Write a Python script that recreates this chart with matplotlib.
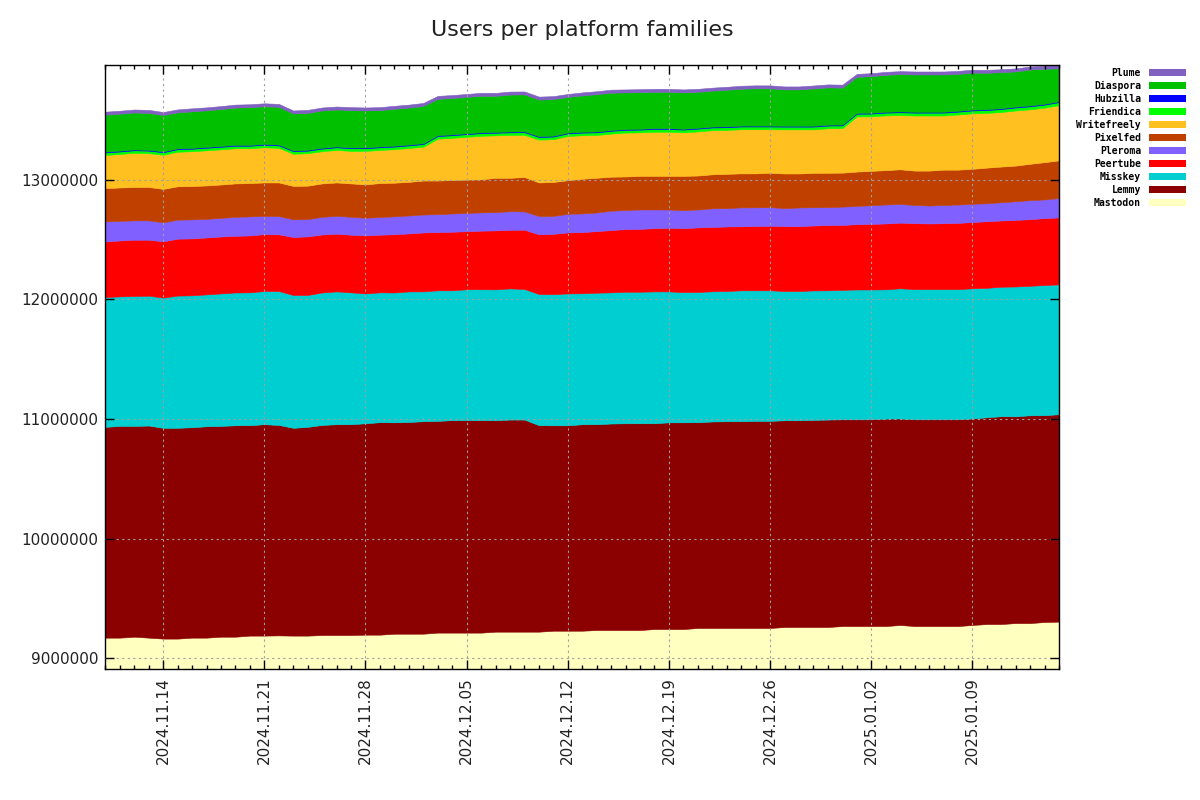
import numpy as np
import pandas as pd
import matplotlib
matplotlib.use('Agg')
import matplotlib.pyplot as plt
import matplotlib.dates as mdates
from matplotlib.patches import Rectangle
from matplotlib.ticker import MultipleLocator, FuncFormatter

# one value per day, 2024.11.10 .. 2025.01.15
dates = pd.date_range('2024-11-10', '2025-01-15', freq='D')

# users per platform family, in thousands
mastodon = [9171, 9171, 9179, 9171, 9163, 9163, 9171, 9171, 9179, 9179,
            9188, 9188, 9190, 9188, 9188, 9193, 9193, 9193, 9196, 9196,
            9204, 9204, 9204, 9213, 9213, 9213, 9213, 9221, 9221, 9221,
            9221, 9229, 9229, 9229, 9235, 9235, 9235, 9235, 9243, 9243,
            9243, 9252, 9252, 9252, 9252, 9252, 9252, 9260, 9260, 9260,
            9260, 9268, 9268, 9268, 9268, 9277, 9268, 9268, 9268, 9268,
            9277, 9285, 9285, 9293, 9293, 9302, 9305]
lemmy = [1763, 1771, 1763, 1774, 1763, 1763, 1760, 1768, 1763, 1768,
         1760, 1768, 1760, 1738, 1746, 1757, 1763, 1763, 1768, 1777,
         1768, 1771, 1777, 1771, 1777, 1777, 1777, 1768, 1774, 1774,
         1727, 1718, 1718, 1727, 1721, 1727, 1729, 1729, 1721, 1729,
         1729, 1721, 1727, 1729, 1729, 1732, 1732, 1729, 1729, 1732,
         1735, 1729, 1729, 1729, 1735, 1727, 1729, 1729, 1729, 1729,
         1727, 1729, 1738, 1729, 1738, 1729, 1735]
misskey = [1086, 1083, 1086, 1086, 1089, 1106, 1103, 1103, 1108, 1111,
           1111, 1114, 1120, 1111, 1103, 1108, 1111, 1103, 1086, 1086,
           1086, 1092, 1086, 1092, 1086, 1095, 1095, 1095, 1097, 1092,
           1097, 1097, 1103, 1095, 1100, 1097, 1100, 1100, 1103, 1095,
           1089, 1089, 1089, 1089, 1095, 1092, 1092, 1081, 1081, 1083,
           1081, 1083, 1086, 1086, 1081, 1089, 1089, 1089, 1089, 1089,
           1089, 1083, 1083, 1086, 1083, 1089, 1086]
peertube = [465, 468, 471, 468, 471, 476, 476, 476, 476, 474,
            476, 476, 474, 485, 490, 485, 482, 482, 485, 482,
            487, 485, 493, 487, 490, 485, 490, 493, 490, 496,
            499, 504, 510, 512, 515, 521, 524, 526, 529, 532,
            535, 540, 538, 540, 535, 538, 540, 543, 543, 543,
            546, 543, 546, 549, 551, 549, 551, 549, 551, 554,
            554, 557, 554, 557, 557, 560, 560]
pleroma = [167, 164, 162, 162, 159, 159, 159, 156, 156, 159,
           159, 153, 153, 148, 145, 148, 150, 150, 148, 148,
           150, 150, 150, 150, 153, 153, 153, 153, 156, 153,
           153, 150, 156, 156, 156, 162, 159, 162, 156, 153,
           150, 150, 156, 153, 159, 156, 156, 150, 156, 153,
           150, 153, 153, 156, 159, 156, 153, 150, 153, 153,
           153, 150, 153, 156, 159, 156, 162]
pixelfed = [279, 279, 279, 279, 279, 279, 279, 279, 279, 279,
            279, 279, 281, 279, 279, 279, 279, 279, 279, 284,
            281, 281, 284, 281, 279, 279, 276, 287, 279, 287,
            281, 284, 281, 290, 290, 284, 281, 281, 281, 281,
            287, 284, 284, 287, 284, 284, 287, 290, 284, 287,
            287, 284, 287, 287, 287, 290, 287, 292, 295, 292,
            292, 298, 298, 298, 304, 312, 315]
writefreely = [277, 280, 286, 283, 286, 289, 291, 294, 294, 294,
               291, 294, 289, 269, 272, 269, 272, 272, 280, 277,
               280, 283, 283, 350, 353, 358, 364, 355, 358, 353,
               358, 358, 369, 364, 358, 361, 367, 364, 369, 369,
               364, 369, 369, 367, 369, 369, 364, 369, 369, 364,
               372, 372, 461, 456, 458, 453, 461, 461, 453, 461,
               464, 458, 456, 461, 456, 456, 461]
friendica = [21, 21, 21, 21, 21, 21, 21, 21, 21, 21,
             21, 21, 21, 21, 21, 22, 22, 22, 22, 22,
             22, 22, 22, 22, 22, 22, 22, 22, 22, 22,
             22, 22, 22, 22, 22, 23, 23, 23, 23, 23,
             23, 23, 23, 23, 23, 23, 23, 23, 23, 23,
             23, 23, 23, 23, 23, 24, 24, 24, 24, 24,
             24, 24, 25, 25, 25, 25, 26]
hubzilla = [7, 7, 7, 7, 7, 7, 7, 7, 7, 7,
            7, 7, 7, 7, 7, 7, 7, 7, 7, 7,
            7, 7, 7, 7, 7, 7, 7, 7, 7, 7,
            7, 7, 7, 7, 7, 7, 7, 7, 7, 7,
            7, 7, 7, 7, 7, 7, 7, 7, 7, 7,
            7, 7, 7, 7, 7, 7, 7, 7, 7, 7,
            7, 7, 7, 7, 7, 7, 7]
diaspora = [309, 309, 309, 309, 304, 301, 306, 306, 309, 312,
            315, 315, 315, 309, 309, 312, 309, 312, 309, 304,
            309, 309, 312, 304, 304, 304, 306, 301, 309, 309,
            306, 306, 298, 304, 312, 312, 306, 306, 304, 304,
            304, 301, 301, 306, 309, 312, 312, 304, 304, 312,
            312, 309, 301, 306, 309, 312, 312, 312, 312, 309,
            309, 304, 301, 295, 301, 293, 276]
plume = [25, 25, 25, 25, 25, 25, 25, 25, 25, 25,
         25, 25, 25, 25, 25, 25, 25, 25, 25, 25,
         25, 25, 25, 25, 25, 25, 25, 25, 25, 25,
         25, 25, 25, 25, 25, 25, 25, 25, 25, 25,
         25, 25, 25, 25, 25, 25, 25, 25, 25, 25,
         25, 25, 25, 25, 25, 25, 25, 25, 25, 25,
         25, 25, 25, 25, 25, 25, 25]

families = ['Mastodon', 'Lemmy', 'Misskey', 'Peertube', 'Pleroma', 'Pixelfed',
            'Writefreely', 'Friendica', 'Hubzilla', 'Diaspora', 'Plume']
series = [mastodon, lemmy, misskey, peertube, pleroma, pixelfed,
          writefreely, friendica, hubzilla, diaspora, plume]
colors = ['#ffffc0', '#8b0000', '#00ced1', '#ff0000', '#8060ff', '#c04000',
          '#ffc020', '#00ff00', '#0000ff', '#00c000', '#8060c0']

fig = plt.figure(figsize=(12, 8), dpi=100)
ax = fig.add_axes([0.0878, 0.1634, 0.7948, 0.755])

# stack the families on top of each other
bottom = np.zeros(len(dates))
for vals, col in zip(series, colors):
    top = bottom + np.array(vals, dtype=float) * 1000
    ax.fill_between(dates, bottom, top, facecolor=col, edgecolor=col, linewidth=0.4)
    bottom = top

ax.set_xlim(dates[0], dates[-1])
ax.set_ylim(8906500, bottom.max())

ax.xaxis.set_major_locator(mdates.WeekdayLocator(byweekday=mdates.TH))
ax.xaxis.set_minor_locator(mdates.DayLocator())
ax.xaxis.set_major_formatter(mdates.DateFormatter('%Y.%m.%d'))
ax.yaxis.set_major_locator(MultipleLocator(1000000))
ax.yaxis.set_major_formatter(FuncFormatter(lambda v, p: '%d' % v))

ax.tick_params(which='both', direction='in', top=True, right=True, colors='black',
               labelcolor='#222222', labelsize=11)
ax.tick_params(which='major', length=6.5, width=1)
ax.tick_params(which='minor', length=3.2, width=1)
ax.tick_params(axis='x', which='major', pad=6)
ax.tick_params(axis='y', which='major', pad=5)
for lab in ax.get_xticklabels():
    lab.set_rotation(90)

ax.grid(True, which='major', color='#a0a0a0', linestyle=(0, (2, 3)), linewidth=0.8)
ax.set_axisbelow(False)
for sp in ax.spines.values():
    sp.set_linewidth(1)
    sp.set_color('black')

fig.text(0.485, 1 - 30 / 800, 'Users per platform families', ha='center', va='center',
         fontsize=16, color='#222222')

# gnuplot-like key outside on the right
for i, (name, col) in enumerate(zip(families[::-1], colors[::-1])):
    yc = 1 - (72.5 + i * 13.02) / 800
    fig.text(1141 / 1200, yc, name, ha='right', va='center', fontsize=7,
             family='DejaVu Sans Mono', fontweight='bold', color='black')
    fig.patches.append(Rectangle((1149 / 1200, yc - 3.5 / 800), 37 / 1200, 7 / 800,
                                 transform=fig.transFigure, facecolor=col,
                                 edgecolor='none', figure=fig))

plt.savefig('out.png', dpi=100)
